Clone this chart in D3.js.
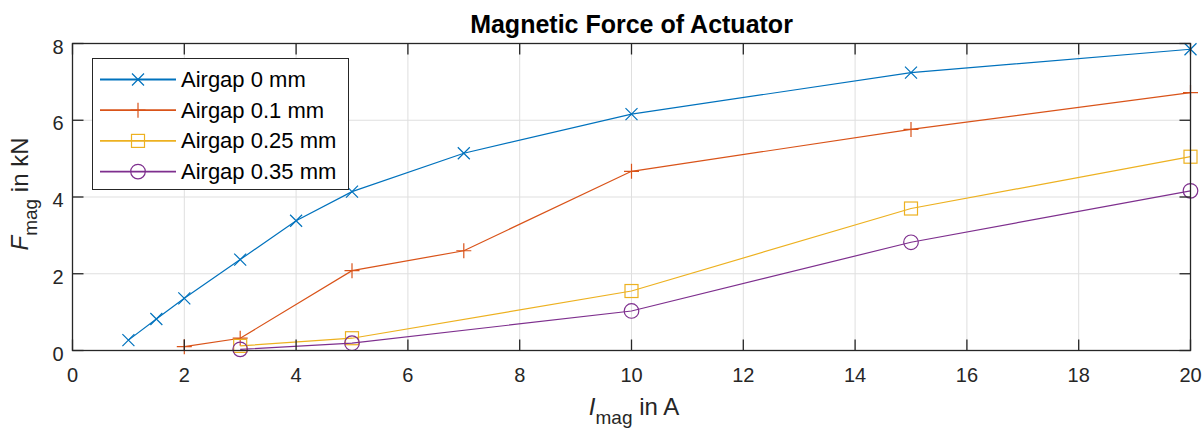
<!DOCTYPE html>
<html><head><meta charset="utf-8">
<script src="https://cdn.jsdelivr.net/npm/d3@7"></script>
<style>
body{margin:0;background:#fff;}
svg{display:block;font-family:"Liberation Sans",Arial,Helvetica,sans-serif;}
</style></head>
<body>
<svg id="c" width="1204" height="428"></svg>
<script>
const seriesNames = ["Airgap 0 mm","Airgap 0.1 mm","Airgap 0.25 mm","Airgap 0.35 mm"];
const x0 = [1,1.5,2,3,4,5,7,10,15,20];
const y0 = [0.27,0.82,1.36,2.37,3.38,4.14,5.14,6.16,7.24,7.85];
const x1 = [2,3,5,7,10,15,20];
const y1 = [0.10,0.32,2.08,2.60,4.67,5.76,6.72];
const x2 = [3,5,10,15,20];
const y2 = [0.12,0.32,1.55,3.70,5.05];
const x3 = [3,5,10,15,20];
const y3 = [0.03,0.19,1.03,2.82,4.16];
const xTicks = [0,2,4,6,8,10,12,14,16,18,20];
const yTicks = [0,2,4,6,8];
const colors = ["#0072BD","#D95319","#EDB120","#7E2F8E"];
const markers = ["x","plus","square","circle"];

const series = [[x0,y0],[x1,y1],[x2,y2],[x3,y3]].map((s,i)=>({
  name: seriesNames[i], color: colors[i], marker: markers[i],
  pts: s[0].map((xv,j)=>[xv,s[1][j]])
}));

const L=72.5, R=1190.5, T=43.5, B=350.5;
const svg = d3.select("#c");
const x = d3.scaleLinear().domain([0,20]).range([L,R]);
const y = d3.scaleLinear().domain([0,8]).range([B,T]);
const axisCol = "#262626";

// grid
const g = svg.append("g");
g.selectAll(".gx").data(xTicks).enter().append("line")
  .attr("x1",d=>x(d)).attr("x2",d=>x(d)).attr("y1",T).attr("y2",B)
  .attr("stroke","#dfdfdf").attr("stroke-width",1);
g.selectAll(".gy").data(yTicks).enter().append("line")
  .attr("y1",d=>y(d)).attr("y2",d=>y(d)).attr("x1",L).attr("x2",R)
  .attr("stroke","#dfdfdf").attr("stroke-width",1);

// lines
const line = d3.line().x(d=>x(d[0])).y(d=>y(d[1]));
function drawMarker(sel, type, cx, cy, color){
  const s=6;
  if(type==="x"){
    sel.append("path").attr("d",`M${cx-s},${cy-s}L${cx+s},${cy+s}M${cx-s},${cy+s}L${cx+s},${cy-s}`)
      .attr("stroke",color).attr("stroke-width",1.2).attr("fill","none");
  } else if(type==="plus"){
    sel.append("path").attr("d",`M${cx-7.5},${cy}L${cx+7.5},${cy}M${cx},${cy-7.5}L${cx},${cy+7.5}`)
      .attr("stroke",color).attr("stroke-width",1.2).attr("fill","none");
  } else if(type==="square"){
    sel.append("rect").attr("x",cx-6.5).attr("y",cy-6.5).attr("width",13).attr("height",13)
      .attr("stroke",color).attr("stroke-width",1.2).attr("fill","none");
  } else {
    sel.append("circle").attr("cx",cx).attr("cy",cy).attr("r",7.3)
      .attr("stroke",color).attr("stroke-width",1.2).attr("fill","none");
  }
}
series.forEach(s=>{
  svg.append("path").datum(s.pts).attr("d",line).attr("fill","none")
    .attr("stroke",s.color).attr("stroke-width",1.2);
  const mg = svg.append("g");
  s.pts.forEach(p=>drawMarker(mg,s.marker,x(p[0]),y(p[1]),s.color));
});

// axes box and ticks
const tl = 11;
const ax = svg.append("g").attr("stroke",axisCol).attr("stroke-width",1.3);
ax.append("rect").attr("x",L).attr("y",T).attr("width",R-L).attr("height",B-T).attr("fill","none");
xTicks.forEach(t=>{
  ax.append("line").attr("x1",x(t)).attr("x2",x(t)).attr("y1",B).attr("y2",B-tl);
  ax.append("line").attr("x1",x(t)).attr("x2",x(t)).attr("y1",T).attr("y2",T+tl);
});
yTicks.forEach(t=>{
  ax.append("line").attr("y1",y(t)).attr("y2",y(t)).attr("x1",L).attr("x2",L+tl);
  ax.append("line").attr("y1",y(t)).attr("y2",y(t)).attr("x1",R).attr("x2",R-tl);
});
svg.append("g").selectAll("text").data(xTicks).enter().append("text")
  .attr("x",d=>x(d)).attr("y",B+31).attr("text-anchor","middle")
  .attr("font-size",20).attr("fill",axisCol).text(d=>d);
svg.append("g").selectAll("text").data(yTicks).enter().append("text")
  .attr("x",L-9).attr("y",d=>y(d)+10).attr("text-anchor","end")
  .attr("font-size",20).attr("fill",axisCol).text(d=>d);

// title
svg.append("text").attr("x",(L+R)/2).attr("y",33).attr("text-anchor","middle")
  .attr("font-size",25).attr("font-weight","bold").attr("fill","#000")
  .text("Magnetic Force of Actuator");

// x label
const xl = svg.append("text").attr("x",634).attr("y",415).attr("text-anchor","middle")
  .attr("font-size",24).attr("fill",axisCol);
xl.append("tspan").attr("font-style","italic").text("I");
xl.append("tspan").attr("dy",9).attr("font-size",19).text("mag");
xl.append("tspan").attr("dy",-9).text(" in A");

// y label
const yl = svg.append("text").attr("transform",`translate(28,194) rotate(-90)`)
  .attr("text-anchor","middle").attr("font-size",24).attr("fill",axisCol);
yl.append("tspan").attr("font-style","italic").text("F");
yl.append("tspan").attr("dy",9).attr("font-size",19).text("mag");
yl.append("tspan").attr("dy",-9).text(" in kN");

// legend
const lg = svg.append("g");
lg.append("rect").attr("x",92.5).attr("y",58.5).attr("width",256).attr("height",131)
  .attr("fill","#fff").attr("stroke",axisCol).attr("stroke-width",1);
series.forEach((s,i)=>{
  const cy = 79.5 + i*30.7;
  lg.append("line").attr("x1",100).attr("x2",176).attr("y1",cy).attr("y2",cy)
    .attr("stroke",s.color).attr("stroke-width",1.8);
  drawMarker(lg,s.marker,138,cy,s.color);
  lg.append("text").attr("x",181).attr("y",cy+7.5).attr("font-size",22).attr("fill","#000").text(s.name);
});
</script>
</body></html>
